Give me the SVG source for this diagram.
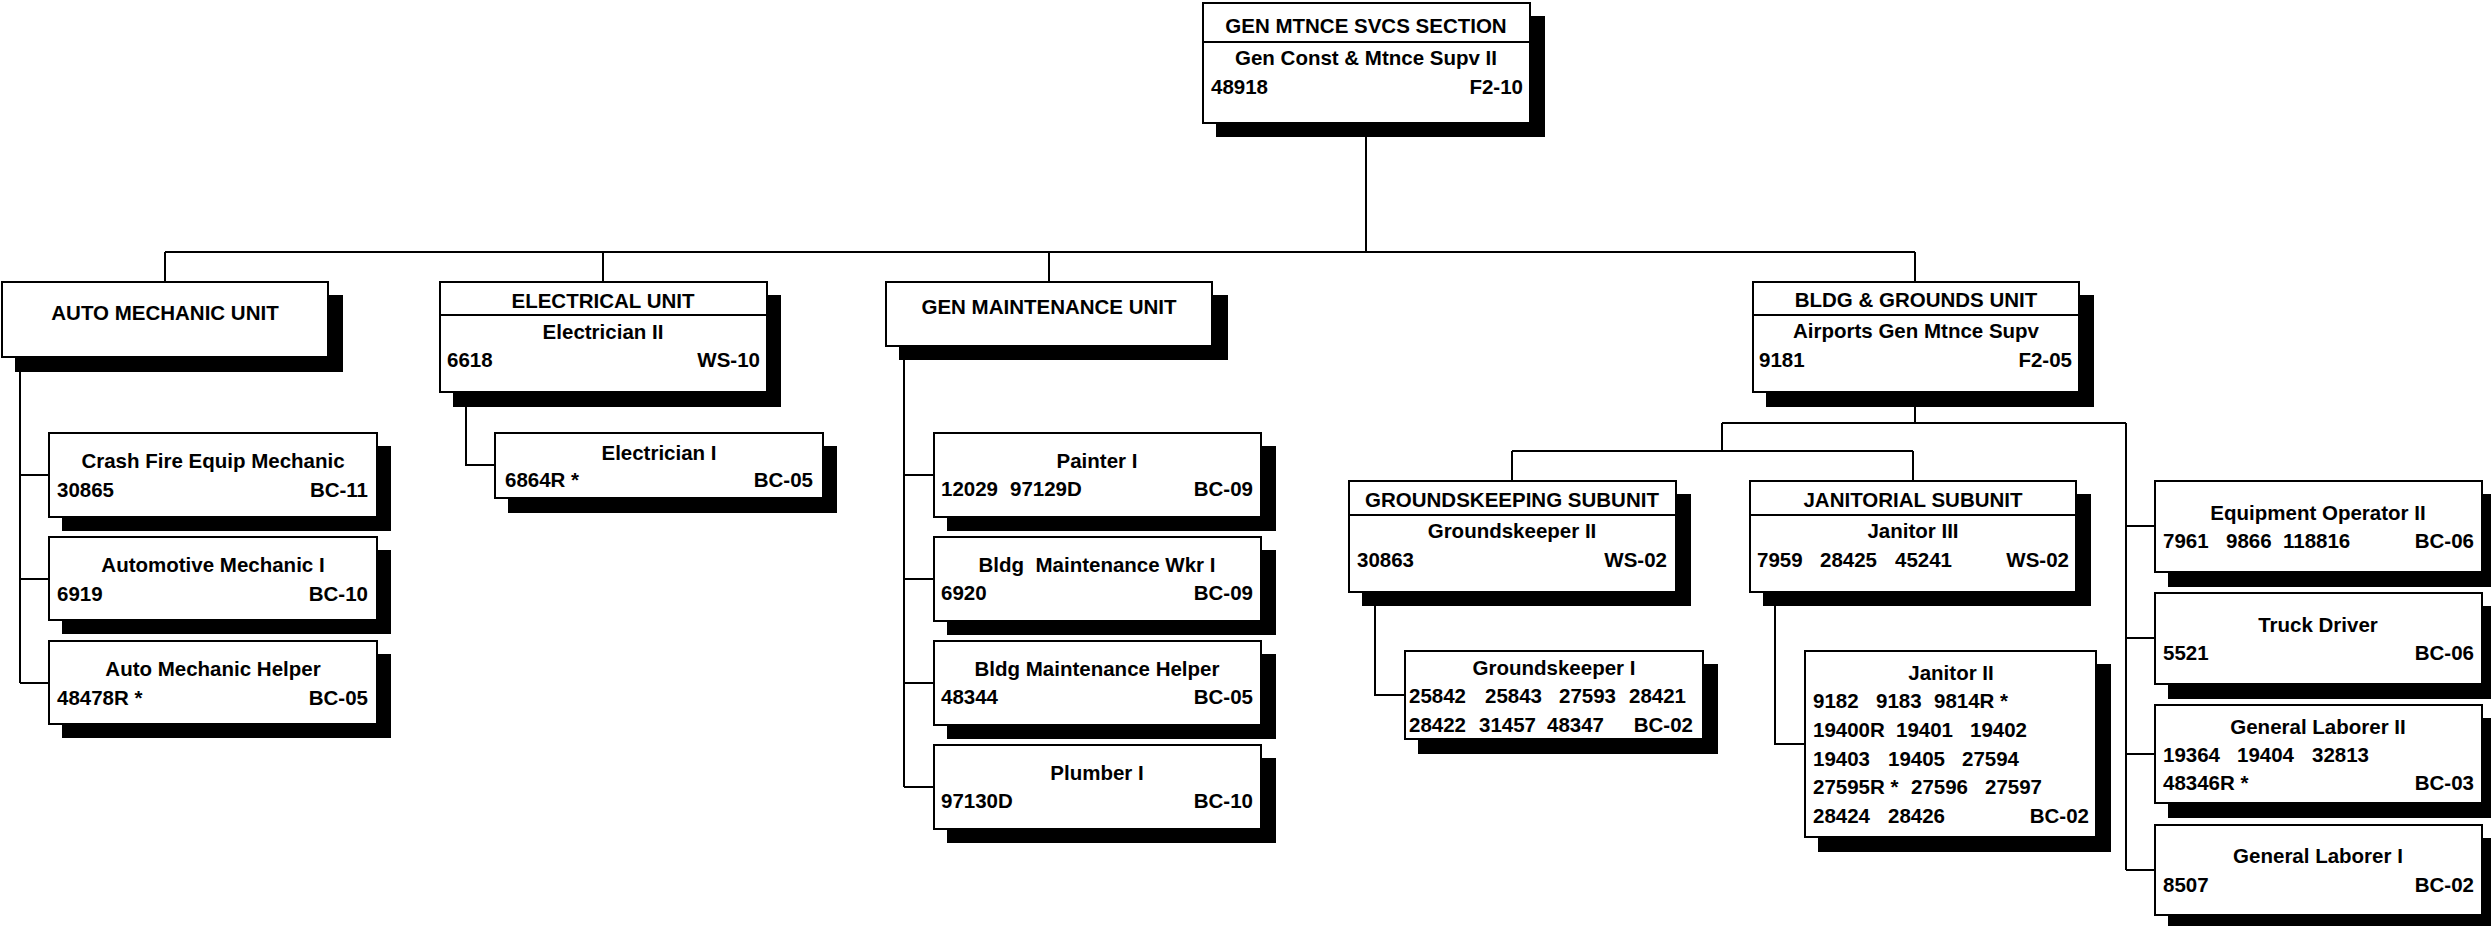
<svg xmlns="http://www.w3.org/2000/svg" width="2491" height="926" viewBox="0 0 2491 926">
<style>
.bg{fill:#fff}
.box{fill:#fff;stroke:#000;stroke-width:2}
.sh{fill:#000}
.dv{stroke:#000;stroke-width:2}
.ln{stroke:#000;stroke-width:2;fill:none}
text{font-family:"Liberation Sans",Arial,Helvetica,sans-serif;font-weight:bold;font-size:20.5px;fill:#000}
.c{text-anchor:middle}
.r{text-anchor:end}
</style>
<rect class="bg" x="0" y="0" width="2491" height="926"/>

<g id="connectors">
  <path class="ln" d="M1366,123 V252 M165,252 H1915 M165,252 V282 M603,252 V282 M1049,252 V282 M1915,252 V282"/>
  <path class="ln" d="M20,357 V683 M20,475 H49 M20,579 H49 M20,683 H49"/>
  <path class="ln" d="M466,392 V465 H495"/>
  <path class="ln" d="M904,346 V787 M904,475 H934 M904,579 H934 M904,683 H934 M904,787 H934"/>
  <path class="ln" d="M1915,392 V423 M1722,423 H2126 M1722,423 V451 M1512,451 H1913 M1512,451 V481 M1913,451 V481"/>
  <path class="ln" d="M2126,423 V870 M2126,526 H2155 M2126,638 H2155 M2126,754 H2155 M2126,870 H2155"/>
  <path class="ln" d="M1375,592 V695 H1405"/>
  <path class="ln" d="M1775,592 V744 H1805"/>
</g>

<g id="gen-mtnce-svcs-section">
  <rect class="sh" x="1216" y="16" width="329" height="121"/>
  <rect class="box" x="1203" y="3" width="327" height="120"/>
  <line class="dv" x1="1203" y1="42" x2="1530" y2="42"/>
  <text class="c" x="1366" y="33">GEN MTNCE SVCS SECTION</text>
  <text class="c" x="1366" y="65">Gen Const &amp; Mtnce Supv II</text>
  <text x="1211" y="94">48918</text>
  <text class="r" x="1523" y="94">F2-10</text>
</g>

<g id="auto-mechanic-unit">
  <rect class="sh" x="15" y="295" width="328" height="77"/>
  <rect class="box" x="2" y="282" width="326" height="75"/>
  <text class="c" x="165" y="320">AUTO MECHANIC UNIT</text>
</g>

<g id="crash-fire-equip-mechanic">
  <rect class="sh" x="62" y="446" width="329" height="85"/>
  <rect class="box" x="49" y="433" width="328" height="84"/>
  <text class="c" x="213" y="468">Crash Fire Equip Mechanic</text>
  <text x="57" y="497">30865</text>
  <text class="r" x="368" y="497">BC-11</text>
</g>

<g id="automotive-mechanic-i">
  <rect class="sh" x="62" y="550" width="329" height="84"/>
  <rect class="box" x="49" y="537" width="328" height="83"/>
  <text class="c" x="213" y="572">Automotive Mechanic I</text>
  <text x="57" y="601">6919</text>
  <text class="r" x="368" y="601">BC-10</text>
</g>

<g id="auto-mechanic-helper">
  <rect class="sh" x="62" y="654" width="329" height="84"/>
  <rect class="box" x="49" y="641" width="328" height="83"/>
  <text class="c" x="213" y="676">Auto Mechanic Helper</text>
  <text x="57" y="705">48478R *</text>
  <text class="r" x="368" y="705">BC-05</text>
</g>

<g id="electrical-unit">
  <rect class="sh" x="453" y="295" width="328" height="112"/>
  <rect class="box" x="440" y="282" width="327" height="110"/>
  <line class="dv" x1="440" y1="315" x2="767" y2="315"/>
  <text class="c" x="603" y="308">ELECTRICAL UNIT</text>
  <text class="c" x="603" y="339">Electrician II</text>
  <text x="447" y="367">6618</text>
  <text class="r" x="760" y="367">WS-10</text>
</g>

<g id="electrician-i">
  <rect class="sh" x="508" y="446" width="329" height="67"/>
  <rect class="box" x="495" y="433" width="328" height="65"/>
  <text class="c" x="659" y="460">Electrician I</text>
  <text x="505" y="487">6864R *</text>
  <text class="r" x="813" y="487">BC-05</text>
</g>

<g id="gen-maintenance-unit">
  <rect class="sh" x="899" y="295" width="329" height="65"/>
  <rect class="box" x="886" y="282" width="326" height="64"/>
  <text class="c" x="1049" y="314">GEN MAINTENANCE UNIT</text>
</g>

<g id="painter-i">
  <rect class="sh" x="947" y="446" width="329" height="85"/>
  <rect class="box" x="934" y="433" width="327" height="84"/>
  <text class="c" x="1097" y="468">Painter I</text>
  <text x="941" y="496">12029</text>
  <text x="1010" y="496">97129D</text>
  <text class="r" x="1253" y="496">BC-09</text>
</g>

<g id="bldg-maintenance-wkr-i">
  <rect class="sh" x="947" y="550" width="329" height="85"/>
  <rect class="box" x="934" y="537" width="327" height="84"/>
  <text class="c" x="1097" y="572" xml:space="preserve">Bldg  Maintenance Wkr I</text>
  <text x="941" y="600">6920</text>
  <text class="r" x="1253" y="600">BC-09</text>
</g>

<g id="bldg-maintenance-helper">
  <rect class="sh" x="947" y="654" width="329" height="85"/>
  <rect class="box" x="934" y="641" width="327" height="84"/>
  <text class="c" x="1097" y="676">Bldg Maintenance Helper</text>
  <text x="941" y="704">48344</text>
  <text class="r" x="1253" y="704">BC-05</text>
</g>

<g id="plumber-i">
  <rect class="sh" x="947" y="758" width="329" height="85"/>
  <rect class="box" x="934" y="745" width="327" height="84"/>
  <text class="c" x="1097" y="780">Plumber I</text>
  <text x="941" y="808">97130D</text>
  <text class="r" x="1253" y="808">BC-10</text>
</g>

<g id="bldg-grounds-unit">
  <rect class="sh" x="1766" y="295" width="328" height="112"/>
  <rect class="box" x="1753" y="282" width="326" height="110"/>
  <line class="dv" x1="1753" y1="315" x2="2079" y2="315"/>
  <text class="c" x="1916" y="307">BLDG &amp; GROUNDS UNIT</text>
  <text class="c" x="1916" y="338">Airports Gen Mtnce Supv</text>
  <text x="1759" y="367">9181</text>
  <text class="r" x="2072" y="367">F2-05</text>
</g>

<g id="groundskeeping-subunit">
  <rect class="sh" x="1362" y="494" width="329" height="112"/>
  <rect class="box" x="1349" y="481" width="327" height="111"/>
  <line class="dv" x1="1349" y1="515" x2="1676" y2="515"/>
  <text class="c" x="1512" y="507">GROUNDSKEEPING SUBUNIT</text>
  <text class="c" x="1512" y="538">Groundskeeper II</text>
  <text x="1357" y="567">30863</text>
  <text class="r" x="1667" y="567">WS-02</text>
</g>

<g id="groundskeeper-i">
  <rect class="sh" x="1418" y="664" width="300" height="90"/>
  <rect class="box" x="1405" y="651" width="298" height="88"/>
  <text class="c" x="1554" y="675">Groundskeeper I</text>
  <text x="1409" y="703">25842</text>
  <text x="1485" y="703">25843</text>
  <text x="1559" y="703">27593</text>
  <text x="1629" y="703">28421</text>
  <text x="1409" y="732">28422</text>
  <text x="1479" y="732">31457</text>
  <text x="1547" y="732">48347</text>
  <text class="r" x="1693" y="732">BC-02</text>
</g>

<g id="janitorial-subunit">
  <rect class="sh" x="1763" y="494" width="328" height="112"/>
  <rect class="box" x="1750" y="481" width="326" height="111"/>
  <line class="dv" x1="1750" y1="515" x2="2076" y2="515"/>
  <text class="c" x="1913" y="507">JANITORIAL SUBUNIT</text>
  <text class="c" x="1913" y="538">Janitor III</text>
  <text x="1757" y="567">7959</text>
  <text x="1820" y="567">28425</text>
  <text x="1895" y="567">45241</text>
  <text class="r" x="2069" y="567">WS-02</text>
</g>

<g id="janitor-ii">
  <rect class="sh" x="1818" y="664" width="293" height="188"/>
  <rect class="box" x="1805" y="651" width="291" height="186"/>
  <text class="c" x="1951" y="680">Janitor II</text>
  <text x="1813" y="708">9182</text>
  <text x="1876" y="708">9183</text>
  <text x="1934" y="708">9814R *</text>
  <text x="1813" y="737">19400R</text>
  <text x="1896" y="737">19401</text>
  <text x="1970" y="737">19402</text>
  <text x="1813" y="766">19403</text>
  <text x="1888" y="766">19405</text>
  <text x="1962" y="766">27594</text>
  <text x="1813" y="794">27595R *</text>
  <text x="1911" y="794">27596</text>
  <text x="1985" y="794">27597</text>
  <text x="1813" y="823">28424</text>
  <text x="1888" y="823">28426</text>
  <text class="r" x="2089" y="823">BC-02</text>
</g>

<g id="equipment-operator-ii">
  <rect class="sh" x="2168" y="494" width="328" height="93"/>
  <rect class="box" x="2155" y="481" width="327" height="91"/>
  <text class="c" x="2318" y="520">Equipment Operator II</text>
  <text x="2163" y="548">7961</text>
  <text x="2226" y="548">9866</text>
  <text x="2283" y="548">118816</text>
  <text class="r" x="2474" y="548">BC-06</text>
</g>

<g id="truck-driver">
  <rect class="sh" x="2168" y="606" width="328" height="93"/>
  <rect class="box" x="2155" y="593" width="327" height="91"/>
  <text class="c" x="2318" y="632">Truck Driver</text>
  <text x="2163" y="660">5521</text>
  <text class="r" x="2474" y="660">BC-06</text>
</g>

<g id="general-laborer-ii">
  <rect class="sh" x="2168" y="718" width="328" height="100"/>
  <rect class="box" x="2155" y="705" width="327" height="98"/>
  <text class="c" x="2318" y="734">General Laborer II</text>
  <text x="2163" y="762">19364</text>
  <text x="2237" y="762">19404</text>
  <text x="2312" y="762">32813</text>
  <text x="2163" y="790">48346R *</text>
  <text class="r" x="2474" y="790">BC-03</text>
</g>

<g id="general-laborer-i">
  <rect class="sh" x="2168" y="838" width="328" height="92"/>
  <rect class="box" x="2155" y="825" width="327" height="90"/>
  <text class="c" x="2318" y="863">General Laborer I</text>
  <text x="2163" y="892">8507</text>
  <text class="r" x="2474" y="892">BC-02</text>
</g>
</svg>
